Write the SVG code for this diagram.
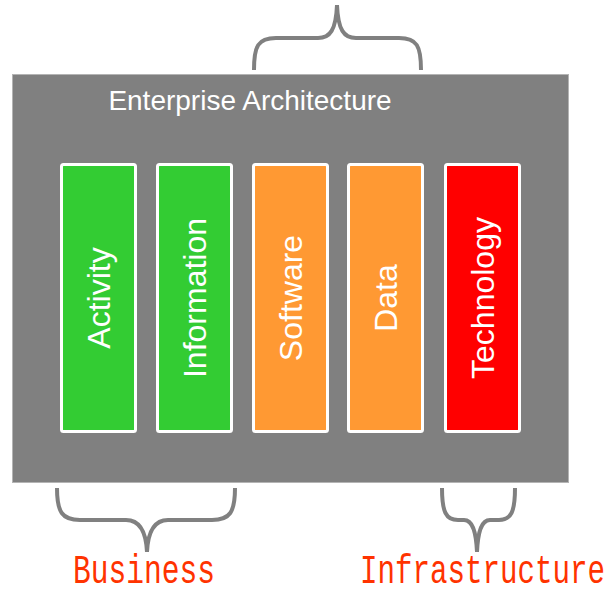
<svg xmlns="http://www.w3.org/2000/svg" width="608" height="590" viewBox="0 0 608 590">
<style>
.col{stroke:#ffffff;stroke-width:3}
.lbl{font-family:"Liberation Sans",Arial,sans-serif;font-size:32px;fill:#ffffff;text-anchor:middle}
.brace{fill:none;stroke:#808080;stroke-width:4;stroke-linecap:butt}
.grp{font-family:"Liberation Mono","DejaVu Sans Mono",monospace;font-size:40px;fill:#ff3300}
</style>
<rect width="608" height="590" fill="#ffffff"/>
<g id="ea">
<rect x="12.5" y="74.5" width="556" height="408" fill="#808080" stroke="#b4b4b4" stroke-width="1"/>
<text x="250" y="110" font-family="Liberation Sans,Arial,sans-serif" font-size="28" fill="#ffffff" text-anchor="middle">Enterprise Architecture</text>
</g>
<g id="activity">
<rect class="col" x="61.5" y="164.5" width="74" height="267" rx="2" fill="#33cc33"/>
<text class="lbl" transform="translate(109.5,298) rotate(-90)">Activity</text>
</g>
<g id="information">
<rect class="col" x="157.5" y="164.5" width="74" height="267" rx="2" fill="#33cc33"/>
<text class="lbl" transform="translate(205.5,298) rotate(-90)">Information</text>
</g>
<g id="software">
<rect class="col" x="253.5" y="164.5" width="74" height="267" rx="2" fill="#ff9933"/>
<text class="lbl" transform="translate(302,298) rotate(-90)">Software</text>
</g>
<g id="data">
<rect class="col" x="348.5" y="164.5" width="74" height="267" rx="2" fill="#ff9933"/>
<text class="lbl" transform="translate(397,298) rotate(-90)">Data</text>
</g>
<g id="technology">
<rect class="col" x="445.5" y="164.5" width="74" height="267" rx="2" fill="#ff0000"/>
<text class="lbl" transform="translate(493.5,298) rotate(-90)">Technology</text>
</g>
<g id="connectors">
<path class="brace" d="M254,70 C254,46 258,38 276,38 L318,38 C330,38 336,30 337,5 C338,30 344,38 356,38 L399,38 C417,38 421,46 421,70"/>
<path class="brace" d="M57,488 C57,512 62,520 80,520 L126,520 C139,520 146,530 147,552 C148,530 155,520 168,520 L212,520 C230,520 235,512 235,488"/>
<path class="brace" d="M442,488 C442,512 446,520 458,520 L464,520 C472,520 476,530 477,552 C478,530 482,520 490,520 L499,520 C511,520 515,512 515,488"/>
</g>
<g id="business">
<text class="grp" x="73" y="583" textLength="142" lengthAdjust="spacingAndGlyphs">Business</text>
</g>
<g id="infrastructure">
<text class="grp" x="360" y="583" textLength="245" lengthAdjust="spacingAndGlyphs">Infrastructure</text>
</g>
</svg>
